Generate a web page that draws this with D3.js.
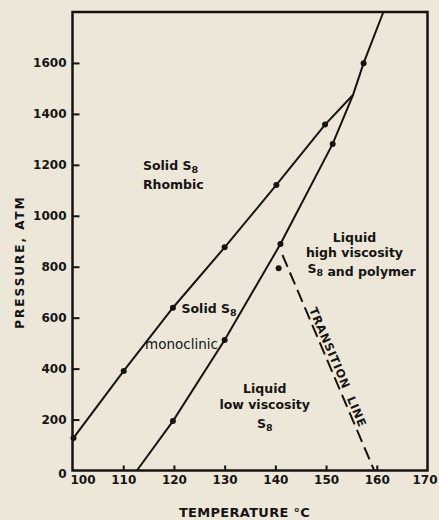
<!DOCTYPE html>
<html>
<head>
<meta charset="utf-8">
<script src="https://cdn.jsdelivr.net/npm/d3@7"></script>
<style>
  body { margin: 0; background: #ece7d9; }
  text { font-family: "DejaVu Sans", sans-serif; fill: #161412; }
</style>
</head>
<body>
<svg id="chart" width="439" height="520"></svg>
<script>
// axis ticks
const xTicks = [100, 110, 120, 130, 140, 150, 160, 170];
const yTicks = [0, 200, 400, 600, 800, 1000, 1200, 1400, 1600];

// rhombic / monoclinic boundary (temp C, pressure atm)
const rhombicLine = [[100, 126], [100.2, 128], [110.1, 391], [119.8, 639], [130.0, 876], [140.2, 1121], [149.8, 1358], [155.3, 1474]];
const rhombicDots = [[100.2, 128], [110.1, 391], [119.8, 639], [130.0, 876], [140.2, 1121], [149.8, 1358]];

// melting curve, continues past the triple point
const meltLine = [[112.7, 0], [119.8, 194], [130.0, 512], [141.0, 889], [151.3, 1282], [155.3, 1474], [157.4, 1599], [161.3, 1800]];
const meltDots = [[119.8, 194], [130.0, 512], [141.0, 889], [151.3, 1282], [157.4, 1599]];

// dashed transition line
const transitionLine = [[141.4, 846], [159.5, 0]];
const transitionDots = [[140.65, 794]];

const svg = d3.select("#chart");
const ink = "#161412";

const x = d3.scaleLinear().domain([100, 170]).range([72.5, 427.5]);
const y = d3.scaleLinear().domain([0, 1800]).range([470.5, 12]);

// frame
svg.append("rect")
    .attr("x", x(100)).attr("y", y(1800))
    .attr("width", x(170) - x(100)).attr("height", y(0) - y(1800))
    .attr("fill", "none").attr("stroke", ink).attr("stroke-width", 2.5);

// y axis, ticks pointing in
const gy = svg.append("g")
    .attr("transform", `translate(${x(100)},0)`)
    .call(d3.axisLeft(y).tickValues(yTicks).tickSize(-7).tickPadding(6).tickFormat(d3.format("d")));
gy.select(".domain").remove();
gy.selectAll(".tick line").attr("stroke", ink).attr("stroke-width", 2);
gy.selectAll(".tick line").filter(d => d === 0).remove();
gy.selectAll(".tick text").attr("font-size", 12).attr("font-weight", "bold")
    .attr("font-family", "DejaVu Sans").attr("fill", ink)
    .attr("dy", d => d === 0 ? "0.55em" : "0.32em");

// x axis, ticks pointing up
const gx = svg.append("g")
    .attr("transform", `translate(0,${y(0)})`)
    .call(d3.axisBottom(x).tickValues(xTicks).tickSize(-5).tickPadding(5).tickFormat(d3.format("d")));
gx.select(".domain").remove();
gx.selectAll(".tick line").attr("stroke", ink).attr("stroke-width", 2);
gx.selectAll(".tick line").filter(d => d === 100 || d === 170).remove();
gx.selectAll(".tick text").attr("font-size", 12).attr("font-weight", "bold")
    .attr("font-family", "DejaVu Sans").attr("fill", ink)
    .attr("dx", d => d === 100 ? 10 : d === 170 ? -3 : 0);

const line = d3.line().x(d => x(d[0])).y(d => y(d[1]));

svg.append("path").datum(rhombicLine).attr("d", line)
    .attr("fill", "none").attr("stroke", ink).attr("stroke-width", 2);
svg.append("path").datum(meltLine).attr("d", line)
    .attr("fill", "none").attr("stroke", ink).attr("stroke-width", 2);
svg.append("path").datum(transitionLine).attr("d", line)
    .attr("fill", "none").attr("stroke", ink).attr("stroke-width", 2)
    .attr("stroke-dasharray", "13,6");

svg.append("g").selectAll("circle")
    .data(rhombicDots.concat(meltDots, transitionDots))
    .join("circle")
    .attr("cx", d => x(d[0])).attr("cy", d => y(d[1]))
    .attr("r", 3).attr("fill", ink);

// region labels; parts with sub=true are subscripts
function label(T, P, parts, anchor, weight, size) {
    const t = svg.append("text")
        .attr("x", x(T)).attr("y", y(P))
        .attr("text-anchor", anchor || "start")
        .attr("font-weight", weight || "bold")
        .attr("font-size", size || 12.5);
    parts.forEach(p => {
        if (typeof p === "string") t.append("tspan").text(p);
        else t.append("tspan").attr("font-size", 9.5).attr("dy", 3).text(p.sub);
    });
    return t;
}

label(113.9, 1180, ["Solid S", {sub: "8"}]);
label(113.9, 1105, ["Rhombic"]);
label(121.5, 618, ["Solid S", {sub: "8"}]);
label(114.3, 477, ["monoclinic"], "start", "normal", 13.5);
label(155.6, 897, ["Liquid"], "middle");
label(155.6, 840, ["high viscosity"], "middle");
label(157.0, 775, ["S", {sub: "8"}, " and polymer"], "middle");
label(137.9, 304, ["Liquid"], "middle");
label(137.9, 243, ["low viscosity"], "middle");
label(137.9, 167, ["S", {sub: "8"}], "middle");

// text along the transition line
const p1 = [x(transitionLine[0][0]), y(transitionLine[0][1])];
const p2 = [x(transitionLine[1][0]), y(transitionLine[1][1])];
const len = Math.hypot(p2[0] - p1[0], p2[1] - p1[1]);
const ux = (p2[0] - p1[0]) / len, uy = (p2[1] - p1[1]) / len;
const ang = Math.atan2(uy, ux) * 180 / Math.PI;
function along(t, off) {
    return [p1[0] + t * (p2[0] - p1[0]) + off * uy, p1[1] + t * (p2[1] - p1[1]) - off * ux];
}
[["TRANSITION", 0.258], ["LINE", 0.671]].forEach(([s, t]) => {
    const p = along(t, 3);
    svg.append("text")
        .attr("transform", `translate(${p[0]},${p[1]}) rotate(${ang})`)
        .attr("font-size", 11.5).attr("font-weight", "bold")
        .attr("letter-spacing", 0.8)
        .text(s);
});

// axis titles
svg.append("text")
    .attr("transform", `translate(23.5,262) rotate(-90)`)
    .attr("text-anchor", "middle")
    .attr("font-size", 12).attr("font-weight", "bold").attr("letter-spacing", 2)
    .text("PRESSURE, ATM");
svg.append("text")
    .attr("x", 244.5).attr("y", 517)
    .attr("text-anchor", "middle")
    .attr("font-size", 13).attr("font-weight", "bold").attr("letter-spacing", 0.3)
    .text("TEMPERATURE °C");
</script>
</body>
</html>
